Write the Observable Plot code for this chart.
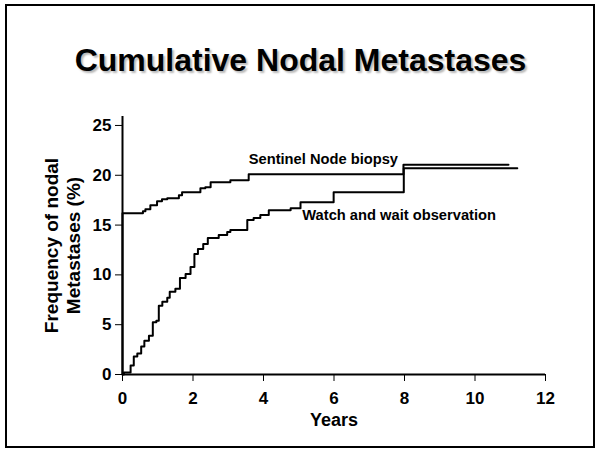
<!DOCTYPE html>
<html>
<head>
<meta charset="utf-8">
<script src="https://cdn.jsdelivr.net/npm/d3@7"></script>
<script src="https://cdn.jsdelivr.net/npm/@observablehq/plot@0.6"></script>
<style>
  html, body { margin: 0; padding: 0; background: #fff; }
  #wrap { position: relative; width: 601px; height: 455px; background: #fff; overflow: hidden; }
  #frame { position: absolute; left: 5px; top: 4px; width: 590px; height: 444px; box-sizing: border-box; border: 2px solid #000; }
  #title { position: absolute; left: 0; top: 44px; width: 601px; text-align: center;
           font-family: "Liberation Sans", Arial, sans-serif; font-weight: bold; font-size: 32px; line-height: 32px;
           color: #000; text-shadow: 2px 2px 2px #b8b8b8; }
  #chart { position: absolute; left: 0; top: 0; }
</style>
</head>
<body>
<div id="wrap">
  <div id="frame"></div>
  <div id="title">Cumulative Nodal Metastases</div>
  <div id="chart"></div>
</div>
<script>
// Sentinel Node biopsy: cumulative % (step function)
const sentinelYears = [0, 0, 0.58, 0.65, 0.79, 0.98, 1.12, 1.27, 1.6, 1.69, 2.21, 2.35, 2.5, 3.06, 3.58, 7.97, 10.95];
const sentinelPct   = [0, 16.2, 16.4, 16.6, 17.0, 17.4, 17.6, 17.7, 18.0, 18.3, 18.7, 18.8, 19.3, 19.5, 20.1, 21.05, 21.05];

// Watch and wait observation: cumulative % (step function)
const watchYears = [0, 0.04, 0.23, 0.32, 0.42, 0.53, 0.62, 0.75, 0.86, 0.96, 1.03, 1.13, 1.27, 1.34, 1.5, 1.63, 1.79, 1.93, 2.04, 2.14, 2.29, 2.42, 2.73, 2.97, 3.06, 3.54, 3.72, 3.91, 4.15, 4.77, 5.05, 5.99, 7.98, 11.2];
const watchPct   = [0, 0.2, 0.9, 1.8, 2.1, 2.8, 3.4, 3.9, 5.25, 5.4, 6.9, 7.3, 7.7, 8.3, 8.6, 9.7, 10.1, 10.8, 12.1, 12.6, 13.1, 13.7, 14.0, 14.3, 14.5, 15.5, 15.7, 16.0, 16.5, 16.7, 17.3, 18.3, 20.7, 20.7];

const xTicks = [0, 2, 4, 6, 8, 10, 12];
const yTicks = [0, 5, 10, 15, 20, 25];

const seriesLabels = [
  {text: "Sentinel Node biopsy", year: 3.58, pct: 21.1},
  {text: "Watch and wait observation", year: 5.1, pct: 15.5}
];

const sentinel = sentinelYears.map((x, i) => ({x, y: sentinelPct[i]}));
const watch = watchYears.map((x, i) => ({x, y: watchPct[i]}));

const chart = Plot.plot({
  width: 601,
  height: 455,
  marginLeft: 122,
  marginRight: 56,
  marginTop: 116,
  marginBottom: 81,
  style: {
    fontFamily: "'Liberation Sans', Arial, sans-serif",
    fontSize: "17px",
    fontWeight: "bold",
    background: "transparent",
    color: "#000",
    overflow: "visible"
  },
  x: {domain: [0, 12], ticks: xTicks, tickSize: 7, tickPadding: 10, label: null},
  y: {domain: [0, 25.9], ticks: yTicks, tickSize: 7, tickPadding: 4, label: null},
  marks: [
    Plot.ruleY([0], {stroke: "#000", strokeWidth: 2}),
    Plot.ruleX([0], {stroke: "#000", strokeWidth: 2}),
    Plot.line(sentinel, {x: "x", y: "y", curve: "step-after", stroke: "#000", strokeWidth: 2}),
    Plot.line(watch, {x: "x", y: "y", curve: "step-after", stroke: "#000", strokeWidth: 2}),
    Plot.text(seriesLabels, {x: "year", y: "pct", text: "text", textAnchor: "start", lineAnchor: "bottom", fontSize: 14.7, fill: "#000"}),
    Plot.text(["Years"], {frameAnchor: "bottom", dy: 51, textAnchor: "middle", lineAnchor: "bottom", fontSize: 18, fill: "#000"}),
    Plot.text(["Frequency of nodal\nMetastases (%)"], {frameAnchor: "left", rotate: -90, dx: -81, textAnchor: "middle", lineAnchor: "top", lineHeight: 1.2, fontSize: 19, fill: "#000"})
  ]
});
document.getElementById("chart").appendChild(chart);
</script>
</body>
</html>
